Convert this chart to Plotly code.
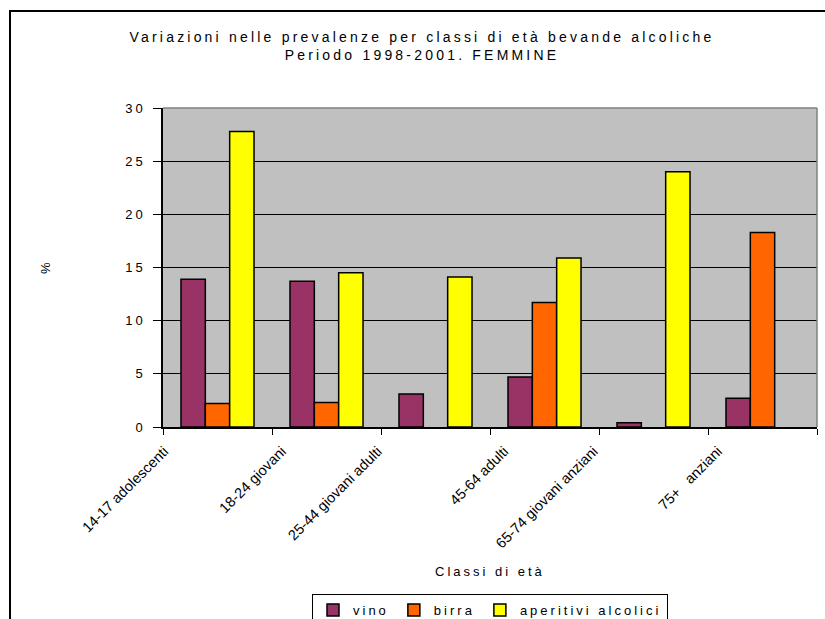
import plotly.graph_objects as go

categories = ["14-17 adolescenti", "18-24 giovani", "25-44 giovani adulti",
              "45-64 adulti", "65-74 giovani anziani", "75+   anziani"]
vino = [13.9, 13.7, 3.1, 4.7, 0.4, 2.7]
birra = [2.2, 2.3, None, 11.7, None, 18.3]
aperitivi = [27.8, 14.5, 14.1, 15.9, 24.0, None]
y_ticks = [0, 5, 10, 15, 20, 25, 30]

# label end offsets (category units) to mimic the original placement
label_offsets = [-0.49, -0.41, -0.53, -0.37, -0.55, -0.41]

W, H = 825, 619
L, R, T, B = 163, 8, 108, 192
PW, PH = W - L - R, H - T - B
font = "Liberation Sans, Arial, sans-serif"

idx = list(range(len(categories)))
fig = go.Figure()
series = [("vino", vino, "#993366"), ("birra", birra, "#FF6600"),
          ("aperitivi alcolici", aperitivi, "#FFFF00")]
for name, vals, col in series:
    fig.add_trace(go.Bar(x=idx, y=vals, name=name,
                         marker=dict(color=col, line=dict(color="black", width=1.5))))
fig.add_trace(go.Scatter(x=[None], y=[None], xaxis="x2", showlegend=False, hoverinfo="skip"))

boundaries = [i - 0.5 for i in range(len(categories) + 1)]
fig.update_layout(
    width=W, height=H,
    margin=dict(l=L, r=R, t=T, b=B, pad=0, autoexpand=False),
    paper_bgcolor="white", plot_bgcolor="#C0C0C0",
    font=dict(family=font, size=13, color="black"),
    barmode="group", bargap=0.33, bargroupgap=0,
    title=dict(text="Variazioni nelle prevalenze per classi di età bevande alcoliche<br>Periodo 1998-2001. FEMMINE",
               x=422 / W, xanchor="center", xref="container",
               y=1 - 42 / H, yanchor="top", yref="container",
               font=dict(size=14)),
    xaxis=dict(range=[-0.5, 5.5], tickvals=boundaries, showticklabels=False,
               ticks="outside", ticklen=6, tickcolor="black", tickwidth=1,
               showline=True, linecolor="black", linewidth=1.5,
               showgrid=False, zeroline=False, automargin=False),
    xaxis2=dict(range=[-0.5, 5.5], overlaying="x", anchor="y", side="bottom",
                tickvals=[i + o for i, o in zip(idx, label_offsets)],
                ticktext=categories, tickangle=-45, ticks="", ticklen=0,
                showline=False, showgrid=False, zeroline=False, automargin=False,
                ticklabelstandoff=12, tickfont=dict(size=14.5)),
    yaxis=dict(range=[0, 30], tickvals=y_ticks, ticks="outside", ticklen=8,
               tickcolor="black", tickwidth=1, showline=True, linecolor="black",
               linewidth=1.5, showgrid=True, gridcolor="black", gridwidth=1,
               zeroline=False, ticklabelstandoff=5, automargin=False,
               tickfont=dict(size=13)),
    legend=dict(orientation="h", x=(490 - L) / PW, xanchor="center",
                y=(427 - 594) / PH, yanchor="top",
                bordercolor="black", borderwidth=1, bgcolor="white",
                font=dict(size=13), itemwidth=30, traceorder="normal",
                tracegroupgap=0),
    showlegend=True,
)

# plot-area top/right border in gray
fig.add_shape(type="line", xref="x domain", yref="y domain", x0=0, x1=1, y0=1, y1=1,
              line=dict(color="#808080", width=1.5), layer="above")
fig.add_shape(type="line", xref="x domain", yref="y domain", x0=1, x1=1, y0=0, y1=1,
              line=dict(color="#808080", width=1.5), layer="above")
# outer chart border
fig.add_shape(type="rect", xref="paper", yref="paper",
              x0=(10 - L) / PW, x1=(840 - L) / PW,
              y0=(427 - 640) / PH, y1=(427 - 11) / PH,
              line=dict(color="black", width=2), fillcolor="rgba(0,0,0,0)", layer="below")

fig.add_annotation(text="Classi di età", xref="paper", yref="paper",
                   x=(490 - L) / PW, y=(427 - 571) / PH, showarrow=False,
                   xanchor="center", yanchor="middle", font=dict(size=13))
fig.add_annotation(text="%", xref="paper", yref="paper",
                   x=(45 - L) / PW, y=(427 - 267) / PH, showarrow=False,
                   textangle=-90, xanchor="center", yanchor="middle", font=dict(size=13))

# the original renders its texts with wide letter spacing (except the rotated category labels);
# re-plot after adding the style (with a new font-family string so text sizes are re-measured)
post = """
var s=document.createElement('style');
s.innerHTML='svg text{letter-spacing:3px;} .gtitle{letter-spacing:3.2px !important;} .x2tick text{letter-spacing:0px !important;}';
document.head.appendChild(s);
var gd=document.getElementById('{plot_id}');
gd.layout.font.family='Liberation Sans, Arial, Helvetica, sans-serif';
Plotly.newPlot(gd, gd.data, gd.layout);
"""
fig.write_html("out.html", post_script=post)
